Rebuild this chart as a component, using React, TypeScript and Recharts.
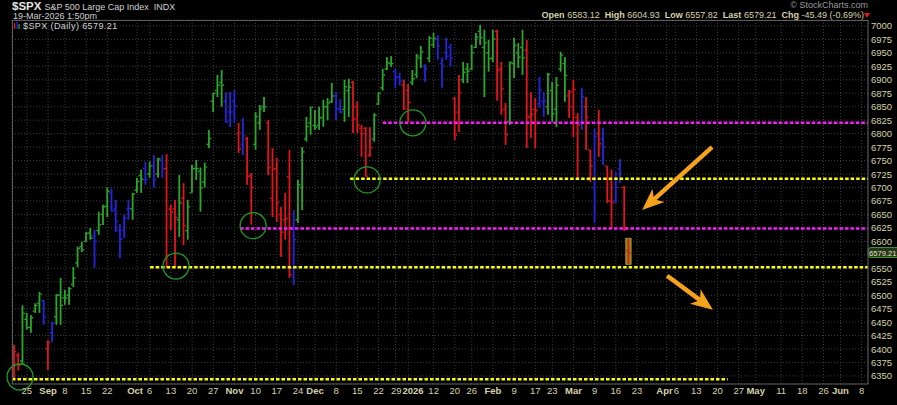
import React from "react";
import {
  ComposedChart,
  Bar,
  XAxis,
  YAxis,
  CartesianGrid,
  ReferenceLine,
  ReferenceDot,
} from "recharts";

// [open, high, low, close, impulse colour]
type Row = [number, number, number, number, "g" | "r" | "b"];

const aug2025: Row[] = [
  [6400, 6408, 6343, 6395, "r"],
  [6388, 6393, 6360, 6370, "r"],
  [6378, 6481, 6370, 6466, "g"],
  [6455, 6467, 6436, 6440, "g"],
  [6440, 6463, 6430, 6458, "g"],
  [6470, 6485, 6467, 6481, "g"],
  [6485, 6506, 6467, 6502, "g"],
  [6490, 6491, 6445, 6460, "b"],
];

const sep2025: Row[] = [
  [6401, 6416, 6361, 6412, "r"],
  [6430, 6450, 6413, 6448, "b"],
  [6460, 6502, 6445, 6500, "g"],
  [6500, 6532, 6445, 6481, "g"],
  [6495, 6510, 6482, 6495, "g"],
  [6500, 6515, 6482, 6512, "g"],
  [6520, 6552, 6515, 6532, "g"],
  [6560, 6590, 6552, 6587, "g"],
  [6590, 6599, 6580, 6584, "g"],
  [6600, 6617, 6599, 6615, "g"],
  [6615, 6625, 6603, 6606, "g"],
  [6610, 6621, 6551, 6600, "b"],
  [6620, 6655, 6612, 6631, "g"],
  [6650, 6668, 6630, 6664, "g"],
  [6665, 6700, 6645, 6693, "g"],
  [6690, 6698, 6655, 6656, "b"],
  [6660, 6677, 6617, 6637, "b"],
  [6620, 6632, 6569, 6604, "b"],
  [6620, 6649, 6606, 6643, "b"],
  [6660, 6677, 6640, 6661, "b"],
  [6660, 6690, 6640, 6688, "g"],
];

const oct2025: Row[] = [
  [6695, 6718, 6690, 6711, "g"],
  [6722, 6733, 6690, 6715, "g"],
  [6735, 6748, 6705, 6715, "b"],
  [6725, 6748, 6718, 6740, "g"],
  [6740, 6760, 6699, 6714, "b"],
  [6725, 6755, 6718, 6753, "g"],
  [6750, 6760, 6718, 6735, "b"],
  [6735, 6762, 6552, 6552, "r"],
  [6660, 6668, 6621, 6654, "r"],
  [6660, 6677, 6552, 6644, "r"],
  [6640, 6723, 6608, 6671, "g"],
  [6680, 6708, 6593, 6629, "r"],
  [6620, 6677, 6603, 6664, "g"],
  [6690, 6742, 6690, 6735, "g"],
  [6735, 6751, 6714, 6735, "g"],
  [6730, 6737, 6655, 6699, "g"],
  [6710, 6746, 6700, 6738, "g"],
  [6780, 6807, 6773, 6791, "g"],
  [6860, 6876, 6840, 6875, "g"],
  [6880, 6909, 6868, 6890, "g"],
  [6895, 6918, 6850, 6890, "g"],
  [6860, 6877, 6820, 6822, "b"],
  [6840, 6877, 6812, 6840, "b"],
];

const nov2025: Row[] = [
  [6860, 6881, 6820, 6851, "b"],
  [6800, 6820, 6764, 6771, "r"],
  [6780, 6829, 6760, 6796, "b"],
  [6790, 6794, 6705, 6720, "r"],
  [6722, 6727, 6631, 6700, "r"],
  [6780, 6840, 6770, 6832, "g"],
  [6820, 6853, 6807, 6846, "g"],
  [6850, 6868, 6840, 6850, "g"],
  [6820, 6825, 6723, 6737, "r"],
  [6680, 6773, 6645, 6734, "r"],
  [6735, 6755, 6636, 6672, "r"],
  [6650, 6664, 6571, 6617, "r"],
  [6640, 6690, 6603, 6642, "r"],
  [6720, 6770, 6532, 6538, "r"],
  [6550, 6658, 6519, 6603, "b"],
  [6640, 6714, 6634, 6705, "g"],
  [6700, 6775, 6658, 6766, "g"],
  [6790, 6831, 6785, 6813, "g"],
  [6820, 6850, 6798, 6849, "g"],
];

const dec2025: Row[] = [
  [6815, 6844, 6807, 6812, "g"],
  [6815, 6850, 6807, 6829, "g"],
  [6830, 6863, 6813, 6850, "g"],
  [6850, 6866, 6825, 6857, "g"],
  [6860, 6894, 6857, 6870, "g"],
  [6870, 6877, 6825, 6846, "b"],
  [6846, 6864, 6838, 6840, "b"],
  [6845, 6900, 6822, 6887, "g"],
  [6880, 6902, 6831, 6886, "g"],
  [6895, 6898, 6801, 6827, "r"],
  [6850, 6860, 6801, 6816, "r"],
  [6810, 6816, 6757, 6800, "r"],
  [6810, 6812, 6720, 6721, "r"],
  [6760, 6812, 6757, 6774, "r"],
  [6790, 6838, 6785, 6834, "g"],
  [6855, 6877, 6853, 6875, "g"],
  [6885, 6920, 6880, 6909, "g"],
  [6920, 6942, 6918, 6932, "g"],
  [6930, 6944, 6924, 6930, "g"],
  [6915, 6920, 6885, 6905, "b"],
  [6905, 6913, 6890, 6898, "b"],
  [6890, 6900, 6844, 6846, "r"],
];

const jan2026: Row[] = [
  [6880, 6892, 6822, 6858, "r"],
  [6895, 6918, 6890, 6902, "g"],
  [6910, 6948, 6903, 6944, "g"],
  [6940, 6963, 6922, 6952, "g"],
  [6925, 6929, 6896, 6920, "b"],
  [6940, 6981, 6933, 6977, "g"],
  [6965, 6987, 6959, 6977, "g"],
  [6975, 6983, 6937, 6963, "b"],
  [6930, 6941, 6885, 6926, "b"],
  [6950, 6978, 6937, 6944, "b"],
  [6960, 6967, 6924, 6940, "b"],
  [6865, 6868, 6788, 6797, "r"],
  [6840, 6909, 6803, 6876, "r"],
  [6900, 6933, 6894, 6914, "g"],
  [6920, 6931, 6894, 6916, "g"],
  [6920, 6965, 6918, 6950, "g"],
  [6960, 6987, 6959, 6979, "g"],
  [6990, 7002, 6965, 6978, "g"],
  [6960, 6993, 6868, 6969, "g"],
  [6950, 6974, 6915, 6939, "g"],
];

const feb2026: Row[] = [
  [6940, 6993, 6933, 6976, "g"],
  [6990, 6993, 6861, 6917, "r"],
  [6920, 6933, 6835, 6883, "r"],
  [6845, 6857, 6779, 6798, "r"],
  [6822, 6934, 6816, 6932, "g"],
  [6930, 6978, 6903, 6964, "g"],
  [6950, 6968, 6922, 6942, "g"],
  [6960, 6993, 6909, 6941, "g"],
  [6955, 6974, 6773, 6832, "r"],
  [6830, 6877, 6792, 6836, "r"],
  [6845, 6866, 6773, 6843, "r"],
  [6855, 6905, 6848, 6881, "b"],
  [6860, 6877, 6831, 6861, "b"],
  [6850, 6913, 6835, 6910, "g"],
  [6880, 6896, 6822, 6837, "g"],
  [6845, 6905, 6812, 6890, "g"],
  [6920, 6952, 6915, 6946, "g"],
  [6930, 6942, 6859, 6908, "g"],
  [6870, 6881, 6829, 6878, "r"],
];

const mar2026: Row[] = [
  [6850, 6900, 6794, 6882, "r"],
  [6830, 6838, 6714, 6816, "r"],
  [6820, 6885, 6807, 6869, "b"],
  [6850, 6868, 6770, 6830, "r"],
  [6770, 6770, 6710, 6740, "r"],
  [6700, 6809, 6634, 6795, "b"],
  [6800, 6844, 6757, 6781, "r"],
  [6790, 6811, 6742, 6775, "b"],
  [6740, 6740, 6671, 6675, "r"],
  [6675, 6733, 6625, 6672, "r"],
  [6675, 6729, 6671, 6700, "b"],
  [6735, 6753, 6708, 6716, "b"],
  [6700, 6703, 6619, 6624.7, "r"],
  [6583.12, 6604.93, 6557.82, 6579.21, "r"],
];

// trading-day index of the first bar (Aug 20 2025); index 0 is Mon Aug 25
const firstIndex = -3;

// x-axis: trading-day index of each label, and its text
const tickIndex = [
  0, 5, 9, 14, 19, 26, 29, 34, 39, 44, 49, 54, 59, 64, 68, 73, 78, 83, 87, 90,
  96, 101, 105, 110, 115, 120, 124, 129, 134, 139, 144, 151, 153, 158, 163, 168,
  172, 178, 183, 188, 192, 197,
];
const tickLabel = [
  "25", "Sep", "8", "15", "22", "Oct", "6", "13", "20", "27", "Nov", "10", "17", "24",
  "Dec", "8", "15", "22", "29", "2026", "12", "20", "26", "Feb", "9", "17", "23", "Mar",
  "9", "16", "23", "Apr", "6", "13", "20", "27", "May", "11", "18", "26", "Jun", "8",
];

const priceTicks = [
  6350, 6375, 6400, 6425, 6450, 6475, 6500, 6525, 6550, 6575, 6600, 6625, 6650,
  6675, 6700, 6725, 6750, 6775, 6800, 6825, 6850, 6875, 6900, 6925, 6950, 6975, 7000,
];

// support / resistance levels: [from index, to index, price]
const yellowLevels: [number, number, number][] = [
  [-3.5, 165.4, 6344],
  [29.1, 198.5, 6552],
  [76.3, 198.5, 6716],
];
const magentaLevels: [number, number, number][] = [
  [50.3, 198.5, 6624],
  [84, 198.5, 6820],
];

// circled turning points: [index, price]
const circles: [number, number][] = [
  [-1.6, 6348],
  [35.2, 6554],
  [53.4, 6629],
  [80.3, 6714],
  [91.1, 6820],
];

// arrows: [tail index, tail price, tip index, tip price]
const arrows: [number, number, number, number][] = [
  [161.7, 6775, 145.2, 6658],
  [151.1, 6536, 161.9, 6473],
];

const quote = { open: "6583.12", high: "6604.93", low: "6557.82", last: "6579.21", chg: "-45.49 (-0.69%)" };
const lastPrice = 6579.21;

const TONES = { g: "#2ba82b", r: "#e3141c", b: "#2525e0" };
const TEXT = "#d6d2aa";
const ORANGE = "#f5a21c";
const FONT = "'Liberation Sans', Arial, sans-serif";

const rows = [aug2025, sep2025, oct2025, nov2025, dec2025, jan2026, feb2026, mar2026]
  .flat()
  .map((r, k, all) => ({
    i: firstIndex + k,
    open: r[0],
    high: r[1],
    low: r[2],
    close: r[3],
    tone: r[4],
    range: [r[2], r[1]],
    last: k === all.length - 1,
  }));

function OhlcBar(props: any) {
  const { x, y, width, height, payload } = props;
  if (payload == null || x == null) return null;
  const top = height < 0 ? y + height : y;
  const h = Math.abs(height);
  const cx = x + width / 2;
  const span = payload.high - payload.low;
  const k = span > 0 ? h / span : 0;
  const yo = top + (payload.high - payload.open) * k;
  const yc = top + (payload.high - payload.close) * k;
  const c = TONES[payload.tone as "g" | "r" | "b"];
  return (
    <g>
      {payload.last && (
        <rect x={cx - 2.7} y={top - 0.5} width={5.4} height={h + 1} fill="#8d8a18" stroke="#b5ad2c" strokeWidth={0.6} />
      )}
      <rect x={cx - 0.9} y={top} width={1.8} height={Math.max(h, 1)} fill={c} />
      <rect x={cx - 2.4} y={yo - 0.7} width={1.6} height={1.4} fill={c} />
      <rect x={cx + 0.8} y={yc - 0.7} width={1.6} height={1.4} fill={c} />
    </g>
  );
}

// labels two or three days apart would collide: the earlier one is pushed left,
// the later one starts just after it
function DateTick(props: any) {
  const { x, y, payload } = props;
  const n = tickIndex.indexOf(payload.value);
  const label = tickLabel[n] ?? "";
  const bold = isNaN(Number(label)) || label.length === 4;
  const gapBefore = n > 0 ? tickIndex[n] - tickIndex[n - 1] : 99;
  const gapAfter = n < tickIndex.length - 1 ? tickIndex[n + 1] - tickIndex[n] : 99;
  let anchor: "middle" | "start" | "end" = "middle";
  let tx = x;
  if (gapAfter <= 3) {
    anchor = "end";
    tx = x + 6;
  } else if (gapBefore <= 3) {
    const half = (label.length * (bold ? 6 : 5.3)) / 2;
    anchor = "start";
    tx = x - Math.min(half, gapBefore * 4.24 - 7);
  }
  return (
    <text x={tx} y={y + 10} textAnchor={anchor} fill={TEXT} fontSize={9.5} fontWeight={bold ? 700 : 400} fontFamily={FONT}>
      {label}
    </text>
  );
}

function PriceTick(props: any) {
  const { x, y, payload } = props;
  // the last-price tag sits over this label
  if (Math.abs(payload.value - lastPrice) < 12) return null;
  return (
    <text x={x + 3} y={y + 3.5} fill={TEXT} fontSize={9.5} fontFamily={FONT}>
      {payload.value}
    </text>
  );
}

function PriceTag(props: any) {
  const vb = props.viewBox;
  if (!vb) return null;
  const x = vb.x + vb.width;
  return (
    <g>
      <rect x={x} y={vb.y - 5} width={32} height={10} rx={3} fill="#26361c" stroke="#3d8f34" strokeWidth={1} />
      <text x={x + 1} y={vb.y + 3} fill="#e6e2c0" fontSize={7.6} fontFamily={FONT}>
        {quote.last}
      </text>
    </g>
  );
}

function Arrow(props: any) {
  const { x1, y1, x2, y2 } = props;
  const dx = x2 - x1;
  const dy = y2 - y1;
  const len = Math.hypot(dx, dy) || 1;
  const ux = dx / len;
  const uy = dy / len;
  const head = 22;
  const half = 9;
  const bx = x2 - ux * head;
  const by = y2 - uy * head;
  const nx = x2 - ux * (head - 6);
  const ny = y2 - uy * (head - 6);
  return (
    <g>
      <line x1={x1} y1={y1} x2={nx} y2={ny} stroke={ORANGE} strokeWidth={4.5} />
      <polygon
        points={`${x2},${y2} ${bx - uy * half},${by + ux * half} ${nx},${ny} ${bx + uy * half},${by - ux * half}`}
        fill={ORANGE}
      />
    </g>
  );
}

export default function App() {
  return (
    <div style={{ position: "absolute", left: 0, top: 0, width: 897, height: 405, background: "#000", fontFamily: FONT, overflow: "hidden" }}>
      <div style={{ position: "absolute", left: 12, top: 1, height: 11, lineHeight: "11px", color: "#e4e4e4", fontSize: 11, whiteSpace: "nowrap" }}>
        <b style={{ fontSize: 11.5 }}>$SPX</b>
        <span style={{ fontSize: 9, color: "#cfcfcf", marginLeft: 3 }}>S&amp;P 500 Large Cap Index&nbsp; INDX</span>
      </div>
      <div style={{ position: "absolute", left: 13, top: 12, height: 9, lineHeight: "9px", color: "#cfcfcf", fontSize: 9 }}>19-Mar-2026 1:50pm</div>
      <div style={{ position: "absolute", right: 29, top: 1, lineHeight: "9px", color: "#9a9a9a", fontSize: 9 }}>© StockCharts.com</div>
      <div style={{ position: "absolute", right: 33, top: 11, lineHeight: "9px", color: TEXT, fontSize: 9, whiteSpace: "nowrap" }}>
        <b>Open</b> {quote.open}&nbsp; <b>High</b> {quote.high}&nbsp; <b>Low</b> {quote.low}&nbsp; <b>Last</b> {quote.last}&nbsp;{" "}
        <b>Chg</b> {quote.chg}
      </div>
      <div style={{ position: "absolute", left: 864, top: 13, width: 0, height: 0, borderLeft: "3px solid transparent", borderRight: "3px solid transparent", borderTop: "5px solid #e3141c" }} />

      <ComposedChart width={897} height={405} data={rows} margin={{ top: 20, right: 0, bottom: 0, left: 12 }}>
        <CartesianGrid stroke="#3e3e3e" strokeDasharray="1 2" />
        <XAxis
          dataKey="i"
          type="number"
          domain={[-3.5, 198.5]}
          allowDataOverflow
          ticks={tickIndex}
          interval={0}
          tick={<DateTick />}
          tickLine={false}
          tickSize={0}
          tickMargin={0}
          height={21}
          axisLine={{ stroke: "#5c5c5c" }}
        />
        <YAxis
          orientation="right"
          type="number"
          domain={[6335, 7011]}
          allowDataOverflow
          ticks={priceTicks}
          interval={0}
          tick={<PriceTick />}
          tickLine={false}
          tickSize={0}
          tickMargin={0}
          width={29}
          axisLine={{ stroke: "#5c5c5c" }}
        />
        <Bar dataKey="range" shape={<OhlcBar />} barSize={4} isAnimationActive={false} />
        {yellowLevels.map(([a, b, v], n) => (
          <ReferenceLine
            key={`y${n}`}
            segment={[{ x: a, y: v }, { x: b, y: v }]}
            stroke="#ffff00"
            strokeWidth={2.5}
            strokeDasharray="3.5 2"
          />
        ))}
        {magentaLevels.map(([a, b, v], n) => (
          <ReferenceLine
            key={`m${n}`}
            segment={[{ x: a, y: v }, { x: b, y: v }]}
            stroke="#ff1aff"
            strokeWidth={2.5}
            strokeDasharray="3.5 2"
          />
        ))}
        {circles.map(([i, v], n) => (
          <ReferenceDot key={`c${n}`} x={i} y={v} r={13} fill="none" stroke="#1f9f1f" strokeWidth={1.3} />
        ))}
        {arrows.map(([i1, v1, i2, v2], n) => (
          <ReferenceLine key={`a${n}`} segment={[{ x: i1, y: v1 }, { x: i2, y: v2 }]} shape={Arrow} />
        ))}
        <ReferenceLine y={lastPrice} stroke="none" label={<PriceTag />} />
      </ComposedChart>

      <div style={{ position: "absolute", left: 12, top: 20, width: 856, height: 364, borderTop: "1px solid #5c5c5c", borderLeft: "1px solid #5c5c5c", boxSizing: "border-box", pointerEvents: "none" }} />
      <div style={{ position: "absolute", left: 14, top: 21, display: "flex", alignItems: "center", gap: 3, color: "#d0d0d0", fontSize: 9, letterSpacing: 0.4 }}>
        <svg width={6} height={8}>
          <rect x={0} y={1} width={1.2} height={6} fill="#e3141c" />
          <rect x={2.5} y={0} width={1.2} height={7} fill="#2525e0" />
          <rect x={4.5} y={2} width={1.2} height={5} fill="#2ba82b" />
        </svg>
        <span>$SPX (Daily) {quote.last}</span>
      </div>
    </div>
  );
}
